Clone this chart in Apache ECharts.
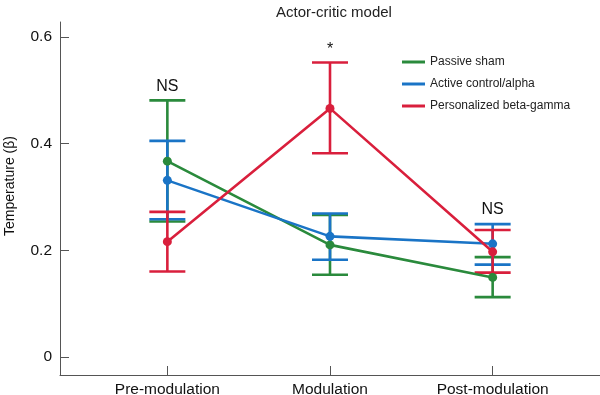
<!DOCTYPE html>
<html><head><meta charset="utf-8">
<script src="https://cdn.jsdelivr.net/npm/echarts@6/dist/echarts.min.js"></script>
<style>html,body{margin:0;padding:0;background:#fff}#c{width:600px;height:395px}</style>
</head><body><div id="c"></div>
<script>
const categories = ['Pre-modulation', 'Modulation', 'Post-modulation'];
const seriesNames = ['Passive sham', 'Active control/alpha', 'Personalized beta-gamma'];
const shamMean = [0.367, 0.210, 0.149];
const shamLow  = [0.254, 0.154, 0.112];
const shamHigh = [0.481, 0.266, 0.187];
const alphaMean = [0.331, 0.226, 0.212];
const alphaLow  = [0.258, 0.182, 0.173];
const alphaHigh = [0.405, 0.269, 0.249];
const betaMean = [0.216, 0.466, 0.197];
const betaLow  = [0.160, 0.382, 0.158];
const betaHigh = [0.272, 0.552, 0.238];
const yTicks = [0, 0.2, 0.4, 0.6];
const annotations = ['NS', '*', 'NS'];
const annotationY = [0.506, 0.576, 0.276];

const colors = ['#2a8a3c', '#1a74c6', '#d91f3c'];
const FONT = 'Liberation Sans, Arial, Helvetica, sans-serif';

function errSeries(name, color, lo, hi) {
  return {
    name: name, type: 'custom',
    data: lo.map((v, i) => [i, v, hi[i]]),
    renderItem: function (params, api) {
      const x = api.value(0);
      const pLo = api.coord([x, api.value(1)]);
      const pHi = api.coord([x, api.value(2)]);
      const hw = 18;
      const st = { stroke: color, lineWidth: 2.6 };
      return { type: 'group', children: [
        { type: 'line', shape: { x1: pHi[0], y1: pHi[1], x2: pLo[0], y2: pLo[1] }, style: st },
        { type: 'line', shape: { x1: pHi[0] - hw, y1: pHi[1], x2: pHi[0] + hw, y2: pHi[1] }, style: st },
        { type: 'line', shape: { x1: pLo[0] - hw, y1: pLo[1], x2: pLo[0] + hw, y2: pLo[1] }, style: st }
      ]};
    },
    itemStyle: { color: color },
    silent: true
  };
}
function lineSeries(name, color, mean) {
  return {
    name: name, type: 'line',
    data: mean.map((v, i) => [i, v]),
    symbol: 'circle', symbolSize: 9,
    lineStyle: { color: color, width: 2.6 },
    itemStyle: { color: color },
    silent: true
  };
}
const means = [shamMean, alphaMean, betaMean];
const lows = [shamLow, alphaLow, betaLow];
const highs = [shamHigh, alphaHigh, betaHigh];
const series = [];
for (let k = 0; k < 3; k++) {
  series.push(errSeries(seriesNames[k], colors[k], lows[k], highs[k]));
  series.push(lineSeries(seriesNames[k], colors[k], means[k]));
}
series.push({
  type: 'custom', name: 'annot',
  data: annotations.map((t, i) => [i, annotationY[i]]),
  renderItem: function (params, api) {
    const p = api.coord([api.value(0), api.value(1)]);
    return { type: 'text', x: p[0], y: p[1], style: {
      text: annotations[params.dataIndex], fill: '#111', font: '16px ' + FONT,
      align: 'center', verticalAlign: 'middle' } };
  },
  silent: true
});

const chart = echarts.init(document.getElementById('c'), null, { renderer: 'canvas' });
chart.setOption({
  animation: false,
  backgroundColor: '#fff',
  title: { text: 'Actor-critic model', left: 329, top: 0, textAlign: 'center',
    textStyle: { fontFamily: FONT, fontSize: 15, fontWeight: 'normal', color: '#222' } },
  legend: {
    data: seriesNames.map((n, i) => ({ name: n, icon: 'rect', itemStyle: { color: colors[i] } })),
    orient: 'vertical', left: 397, top: 51, itemWidth: 23, itemHeight: 3, itemGap: 10,
    textStyle: { fontFamily: FONT, fontSize: 12, color: '#222' },
    selectedMode: false
  },
  graphic: [{
    type: 'text', x: 10, y: 186, rotation: Math.PI / 2,
    style: { text: 'Temperature (β)', font: '14px ' + FONT, fill: '#111', align: 'center', verticalAlign: 'middle' }
  }],
  grid: { left: 60, right: 0, top: 22, bottom: 20, outerBoundsMode: 'none', containLabel: false },
  xAxis: {
    type: 'value', min: -0.66, max: 2.66,
    axisLine: { show: true, onZero: false, lineStyle: { color: '#555', width: 1 } },
    axisTick: { show: true, inside: true, length: 9, customValues: [0, 1, 2], lineStyle: { color: '#555' } },
    axisLabel: { customValues: [0, 1, 2], formatter: v => categories[Math.round(v)] || '',
      fontFamily: FONT, fontSize: 15.5, color: '#111', margin: 7 },
    splitLine: { show: false }
  },
  yAxis: {
    type: 'value', min: -0.034, max: 0.628,
    axisLine: { show: true, onZero: false, lineStyle: { color: '#555', width: 1 } },
    axisTick: { show: true, inside: true, length: 9, customValues: yTicks, lineStyle: { color: '#555' } },
    axisLabel: { customValues: yTicks, formatter: v => String(Math.round(v * 10) / 10),
      fontFamily: FONT, fontSize: 15.5, color: '#111', margin: 8 },
    splitLine: { show: false }
  },
  series: series
});
</script></body></html>
